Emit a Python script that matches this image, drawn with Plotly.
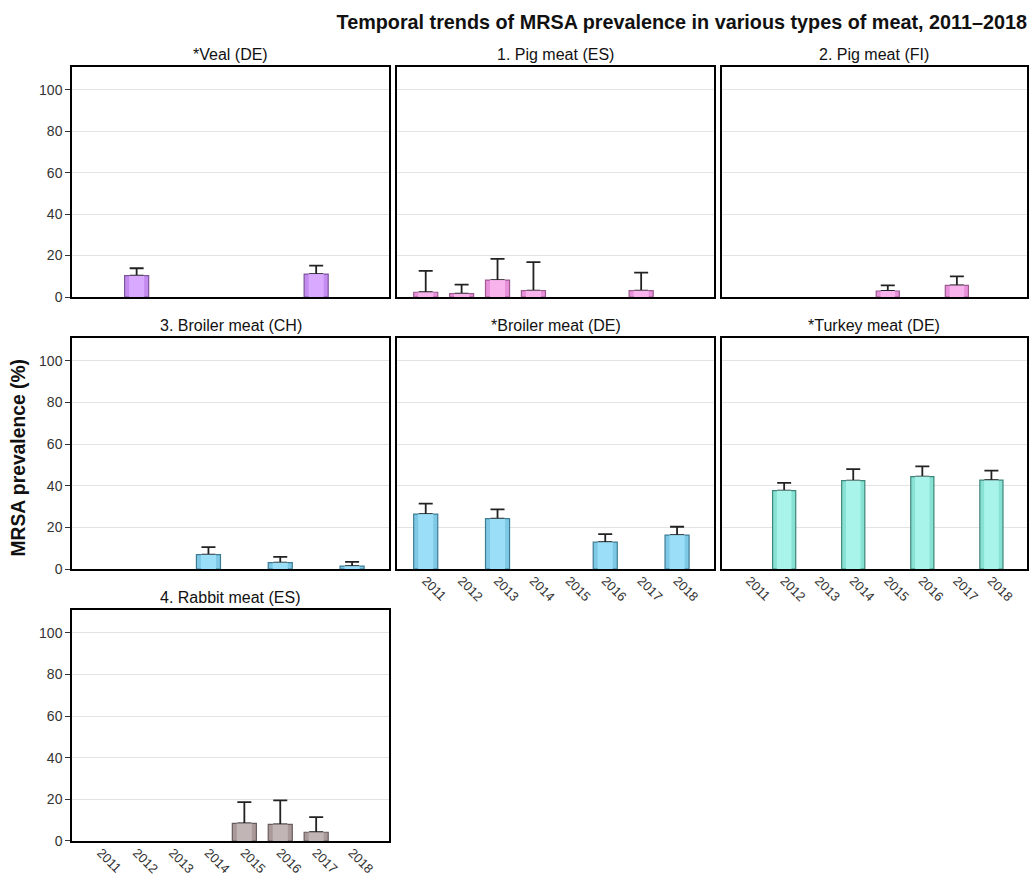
import plotly.graph_objects as go

years = ["2011", "2012", "2013", "2014", "2015", "2016", "2017", "2018"]
y_ticks = [0, 20, 40, 60, 80, 100]

panel_titles = ["*Veal (DE)", "1. Pig meat (ES)", "2. Pig meat (FI)",
                "3. Broiler meat (CH)", "*Broiler meat (DE)", "*Turkey meat (DE)",
                "4. Rabbit meat (ES)"]

veal_de = [None, 10.3, None, None, None, None, 11.1, None]
veal_de_upper = [None, 13.9, None, None, None, None, 15.2, None]

pig_es = [2.3, 1.6, 8.2, 3.1, None, None, 3.1, None]
pig_es_upper = [12.6, 6.0, 18.4, 16.8, None, None, 11.8, None]

pig_fi = [None, None, None, None, 2.9, None, 5.6, None]
pig_fi_upper = [None, None, None, None, 5.6, None, 10.0, None]

broiler_ch = [None, None, None, 6.9, None, 3.1, None, 1.4]
broiler_ch_upper = [None, None, None, 10.5, None, 5.8, None, 3.4]

broiler_de = [26.4, None, 24.2, None, None, 12.9, None, 16.3]
broiler_de_upper = [31.4, None, 28.7, None, None, 16.8, None, 20.3]

turkey_de = [None, 37.7, None, 42.5, None, 44.4, None, 42.7]
turkey_de_upper = [None, 41.4, None, 48.0, None, 49.3, None, 47.3]

rabbit_es = [None, None, None, None, 8.5, 8.0, 4.2, None]
rabbit_es_upper = [None, None, None, None, 18.7, 19.5, 11.5, None]

values = [veal_de, pig_es, pig_fi, broiler_ch, broiler_de, turkey_de, rabbit_es]
uppers = [veal_de_upper, pig_es_upper, pig_fi_upper, broiler_ch_upper,
          broiler_de_upper, turkey_de_upper, rabbit_es_upper]

fills = ["#c58cf0", "#e891da", "#e891da", "#7fc8e6", "#7fc8e6", "#88e2d4", "#aa9999"]
highlights = ["#d9a8ff", "#f8b2ec", "#f8b2ec", "#9adff7", "#9adff7", "#a8f4ea", "#c2b5b5"]
lines = ["#7e559c", "#9c5a90", "#9c5a90", "#3d7d94", "#3d7d94", "#3d857b", "#6a5c5c"]

# layout geometry (paper fractions)
x_domains = [[0.0, 0.332], [0.3403, 0.6723], [0.6806, 1.0]]
y_domains = [[0.7028, 1.0], [0.3514, 0.6499], [0.0, 0.2984]]
show_xlabels = [False, False, False, False, True, True, True]

fig = go.Figure()
font_family = "Arial, Liberation Sans, sans-serif"

for i in range(7):
    r, c = divmod(i, 3)
    ax = "" if i == 0 else str(i + 1)
    vals = values[i]
    ups = uppers[i]
    err_plus = [(u - v) if (u is not None and v is not None) else None for v, u in zip(vals, ups)]
    err_minus = [0 if v is not None else None for v in vals]
    fig.add_trace(go.Bar(
        x=years, y=vals,
        width=0.67,
        marker=dict(color=fills[i], line=dict(color=lines[i], width=1.2)),
        error_y=dict(type="data", symmetric=False, array=err_plus, arrayminus=err_minus,
                     color="#222222", thickness=1.8, width=7),
        xaxis="x" + ax, yaxis="y" + ax, showlegend=False,
        hovertemplate="%{x}: %{y}%<extra></extra>",
    ))
    # lighter centre band to mimic the shaded bars
    fig.add_trace(go.Bar(
        x=years, y=vals,
        width=0.42,
        marker=dict(color=highlights[i], line=dict(width=0)),
        xaxis="x" + ax, yaxis="y" + ax, showlegend=False, hoverinfo="skip",
    ))
    fig.layout["xaxis" + ax] = dict(
        domain=x_domains[c], anchor="y" + ax, type="category",
        categoryorder="array", categoryarray=years,
        range=[-0.8, 8.03], showgrid=False, showline=True, linecolor="black",
        linewidth=2, mirror=True, ticks="", showticklabels=show_xlabels[i],
        tickangle=45, ticklabelstandoff=-3,
        tickfont=dict(size=13, color="#333333", family=font_family),
        automargin=False, fixedrange=True,
    )
    fig.layout["yaxis" + ax] = dict(
        domain=y_domains[r], anchor="x" + ax, range=[0, 111],
        tickvals=y_ticks, showgrid=True, gridcolor="#e3e3e3", gridwidth=1,
        showline=True, linecolor="black", linewidth=1.5, mirror=True,
        ticks="outside" if c == 0 else "", ticklen=5, tickcolor="#333333",
        showticklabels=(c == 0),
        tickfont=dict(size=14, color="#333333", family=font_family),
        zeroline=False, automargin=False, fixedrange=True,
    )
    # subplot title
    xd = x_domains[c]
    fig.add_annotation(
        text=panel_titles[i], x=(xd[0] + xd[1]) / 2, y=y_domains[r][1],
        xref="paper", yref="paper", xanchor="center", yanchor="bottom", yshift=2,
        showarrow=False, font=dict(size=16, color="#111111", family=font_family),
    )

fig.add_annotation(
    text="<b>MRSA prevalence (%)</b>", x=-0.0565, y=(y_domains[1][0] + y_domains[1][1]) / 2,
    xref="paper", yref="paper", textangle=-90, showarrow=False,
    xanchor="center", yanchor="middle", yshift=-4,
    font=dict(size=19.3, color="#111111", family=font_family),
)

fig.update_layout(
    width=1029, height=877,
    margin=dict(l=72, r=2, t=67, b=36, autoexpand=False),
    paper_bgcolor="white", plot_bgcolor="white",
    barmode="overlay",
    title=dict(text="<b>Temporal trends of MRSA prevalence in various types of meat, 2011\u20132018</b>",
               x=0.998, xanchor="right", y=0.975, yanchor="middle",
               font=dict(size=19.8, color="#111111", family=font_family)),
    font=dict(family=font_family),
)

fig.write_html(
    "out.html",
    config={"displayModeBar": False},
    post_script="document.body.style.margin='0';document.body.style.overflow='hidden';",
)
